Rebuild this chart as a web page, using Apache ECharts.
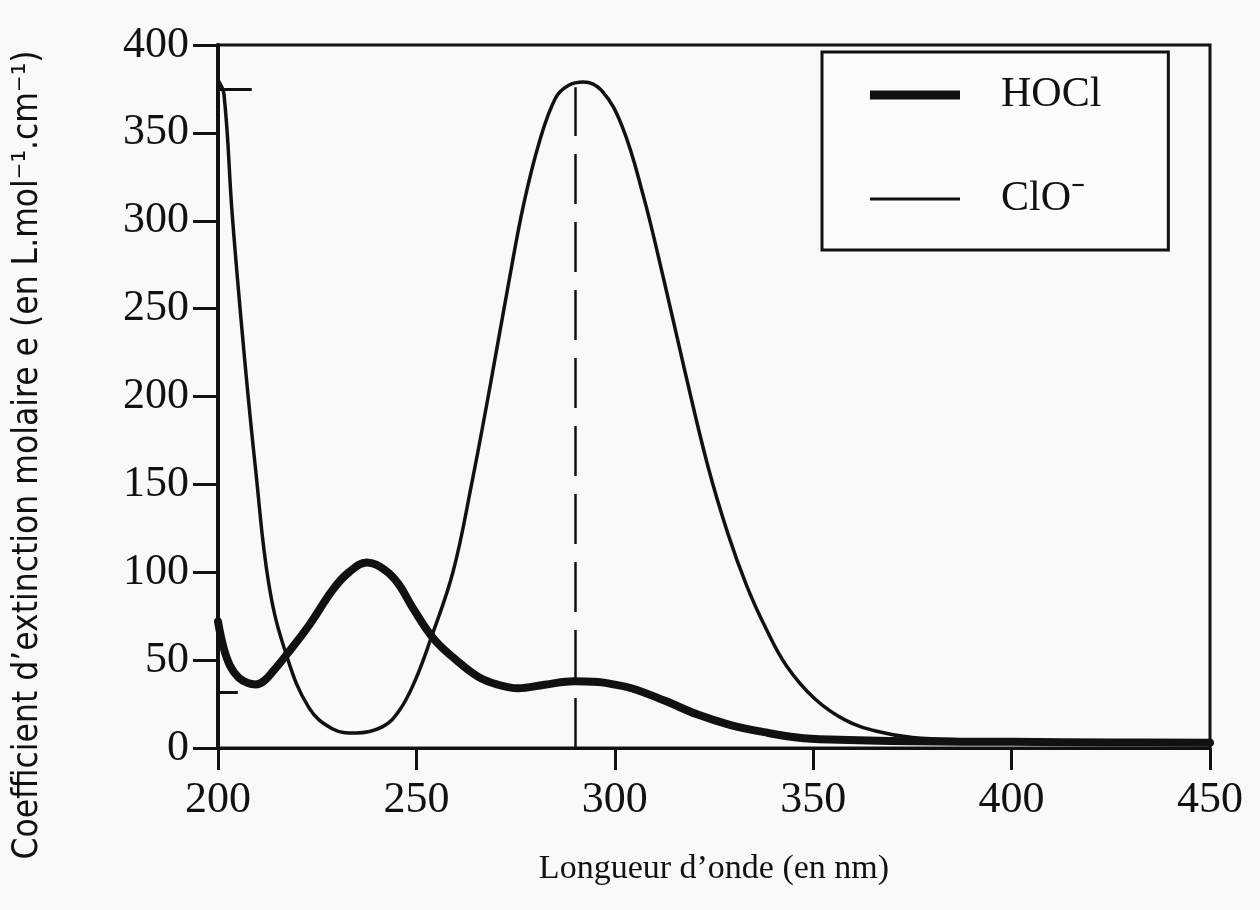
<!DOCTYPE html>
<html>
<head>
<meta charset="utf-8">
<script src="https://cdn.jsdelivr.net/npm/echarts@6/dist/echarts.min.js"></script>
<style>
html,body{margin:0;padding:0;background:#fbf8fa;}
#chart{width:1260px;height:910px;}
</style>
</head>
<body>
<div id="chart"></div>
<script>
// ---- data ----
const xTicks = [200, 250, 300, 350, 400, 450];
const yTicks = [0, 50, 100, 150, 200, 250, 300, 350, 400];

const hoclWavelengths = [200, 201.3, 203, 205.2, 207.5, 209.5, 211.5, 214, 217.6, 223, 228.9, 233, 237.5, 242.2, 245.6, 249, 254.4, 259.8, 265.6, 270.6, 275.6, 282.3, 289.8, 295.8, 299, 304.2, 312.5, 320.9, 329.2, 337.6, 345.9, 354.3, 375, 400, 425, 450];
const hoclValues      = [72, 58, 47, 40, 37, 36.2, 38, 44, 54, 70, 90, 100, 105.5, 101, 93, 80, 62, 50.5, 40.5, 36, 34, 36, 38, 37.5, 36.5, 34, 27, 19, 13, 9, 6, 4.8, 3.8, 3.5, 3.2, 3];

const cloWavelengths = [200, 201.5, 203.6, 206.6, 209.5, 212.9, 217.3, 222.9, 228.8, 234.7, 241.4, 245.6, 249.6, 253.6, 259.2, 263.9, 268.5, 273.2, 277, 281, 285.1, 288.3, 292.1, 296.7, 301.8, 307.1, 312.4, 317.7, 323.5, 328.5, 333.3, 338.1, 343.2, 350.4, 358, 366, 375, 390, 400, 425, 450];
const cloValues      = [380, 372, 303, 224, 158, 92, 52.5, 23, 11, 8.5, 12, 21, 38, 62, 100, 150, 205, 264, 309, 345, 370, 377, 379, 374, 354, 315, 266, 214, 160, 122, 92, 68, 47, 28, 16, 9.5, 6, 4.5, 4, 3.5, 3];

const dashedWavelength = 290;
const dashedTop = 376;
const annotationMarks = [
  { value: 375, from: 200, to: 208.5 },
  { value: 32, from: 200, to: 205 }
];

const seriesNames = ['HOCl', 'ClO\u207B'];
const xAxisTitle = 'Longueur d\u2019onde (en nm)';
const yAxisTitle = 'Coefficient d\u2019extinction molaire e (en L.mol\u207B\u00B9.cm\u207B\u00B9)';

// ---- chart ----
const chart = echarts.init(document.getElementById('chart'), null, { renderer: 'canvas' });
const serif = "'Liberation Serif', 'Times New Roman', serif";
const ink = '#111111';

const toPairs = (xs, ys) => xs.map((x, i) => [x, ys[i]]);

chart.setOption({
  backgroundColor: '#fbf8fa',
  animation: false,
  grid: {
    left: 218, right: 50, top: 45, bottom: 162,
    show: true, borderColor: ink, borderWidth: 3, backgroundColor: 'transparent'
  },
  legend: {
    orient: 'vertical',
    left: 822, top: 52,
    padding: [22, 67, 30, 48],
    borderColor: ink, borderWidth: 3,
    backgroundColor: '#fdfcfd',
    itemWidth: 90, itemHeight: 14, itemGap: 62,
    textStyle: { fontFamily: serif, fontSize: 42, color: ink, padding: [0, 0, 0, 36] },
    data: [
      { name: seriesNames[0], icon: 'path://M0,0H90V9H0Z', itemStyle: { color: ink } },
      { name: seriesNames[1], icon: 'path://M0,0H90V3H0Z', itemStyle: { color: ink } }
    ]
  },
  xAxis: {
    type: 'value', min: xTicks[0], max: xTicks[xTicks.length - 1], interval: 50,
    name: xAxisTitle, nameLocation: 'middle', nameGap: 104,
    nameTextStyle: { fontFamily: serif, fontSize: 34, color: ink },
    axisLine: { show: true, onZero: false, lineStyle: { color: ink, width: 3 } },
    axisTick: { show: true, inside: false, length: 22, lineStyle: { color: ink, width: 3 } },
    axisLabel: { fontFamily: serif, fontSize: 44, color: ink, margin: 30, showMinLabel: true, showMaxLabel: true },
    splitLine: { show: false }
  },
  yAxis: {
    type: 'value', min: yTicks[0], max: yTicks[yTicks.length - 1], interval: 50,
    axisLine: { show: true, lineStyle: { color: ink, width: 4 } },
    axisTick: { show: true, inside: false, length: 25, lineStyle: { color: ink, width: 3 } },
    axisLabel: { fontFamily: serif, fontSize: 44, color: ink, margin: 29 },
    splitLine: { show: false }
  },
  graphic: [{
    type: 'text', left: 10, top: 'middle',
    rotation: Math.PI / 2,
    style: {
      text: yAxisTitle,
      fontFamily: "'Liberation Sans Narrow', 'DejaVu Sans Condensed', 'Liberation Sans', sans-serif",
      fontSize: 35, fill: ink
    }
  }],
  series: [
    {
      name: seriesNames[0], type: 'line', data: toPairs(hoclWavelengths, hoclValues),
      smooth: 0.4, symbol: 'none', showSymbol: false,
      lineStyle: { color: ink, width: 8, cap: 'round', join: 'round' },
      itemStyle: { color: ink }, z: 3,
      markLine: {
        silent: true, symbol: 'none', label: { show: false },
        lineStyle: { color: ink, width: 3, type: 'solid' },
        data: annotationMarks.map(m => [{ coord: [m.from, m.value] }, { coord: [m.to, m.value] }])
      }
    },
    {
      name: seriesNames[1], type: 'line', data: toPairs(cloWavelengths, cloValues),
      smooth: 0.4, symbol: 'none', showSymbol: false,
      lineStyle: { color: ink, width: 3.5, join: 'round' },
      itemStyle: { color: ink }, z: 2,
      markLine: {
        silent: true, symbol: 'none', label: { show: false },
        lineStyle: { color: ink, width: 2.5, type: [50, 18] },
        data: [[{ coord: [dashedWavelength, 0] }, { coord: [dashedWavelength, dashedTop] }]]
      }
    }
  ]
});
</script>
</body>
</html>
